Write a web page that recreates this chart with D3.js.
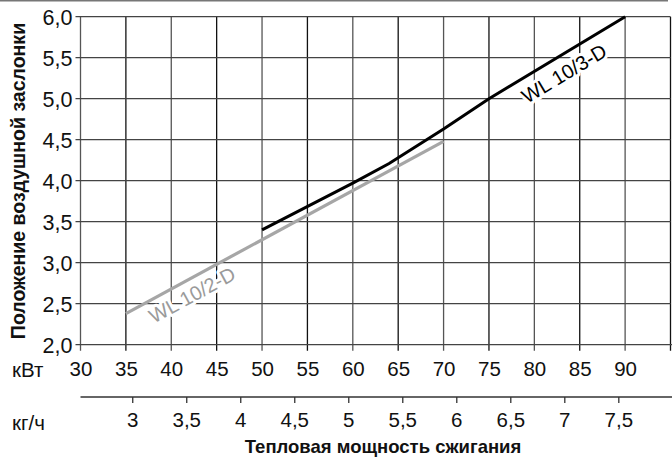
<!DOCTYPE html>
<html>
<head>
<meta charset="utf-8">
<script src="https://cdn.jsdelivr.net/npm/d3@7"></script>
<style>
  body { margin: 0; background: #fff; }
  text { font-family: "Liberation Sans", Arial, sans-serif; }
</style>
</head>
<body>
<div id="chart"></div>
<script>
// data
var kwTicks = [30, 35, 40, 45, 50, 55, 60, 65, 70, 75, 80, 85, 90];
var kgTicks = [3, 3.5, 4, 4.5, 5, 5.5, 6, 6.5, 7, 7.5];
var yTicks = [2, 2.5, 3, 3.5, 4, 4.5, 5, 5.5, 6];
var kwPerKg = 11.9;

var wl103 = [
  {kw: 50, pos: 3.40},
  {kw: 60, pos: 3.97},
  {kw: 64, pos: 4.21},
  {kw: 70, pos: 4.63},
  {kw: 75, pos: 5.00},
  {kw: 90, pos: 6.00}
];
var wl102 = [
  {kw: 35, pos: 2.38},
  {kw: 70, pos: 4.48}
];

var width = 672, height = 459;

var svg = d3.select("#chart").append("svg")
    .attr("width", width)
    .attr("height", height);

var x = d3.scaleLinear().domain([30, 95]).range([80.5, 670.5]);
var y = d3.scaleLinear().domain([2, 6]).range([344.7, 16.7]);

var comma = function(f) { return function(d) { return f(d).replace(".", ","); }; };

// thin rule across the top
svg.append("line")
    .attr("x1", 0).attr("x2", 668)
    .attr("y1", 0.8).attr("y2", 0.8)
    .attr("stroke", "#777").attr("stroke-width", 1.6);

// grid
var grid = svg.append("g");
grid.selectAll("line.v")
    .data(kwTicks.concat([95]))
  .enter().append("line")
    .attr("class", "v")
    .attr("x1", function(d) { return x(d); })
    .attr("x2", function(d) { return x(d); })
    .attr("y1", y(6))
    .attr("y2", y(2) + 6)
    .attr("stroke", function(d, i) { return i % 2 ? "#111" : "#555"; })
    .attr("stroke-width", 1.3);
grid.selectAll("line.h")
    .data(yTicks)
  .enter().append("line")
    .attr("class", "h")
    .attr("x1", x(30) - 5)
    .attr("x2", function(d) { return d === 2 ? width : x(95); })
    .attr("y1", function(d) { return y(d); })
    .attr("y2", function(d) { return y(d); })
    .attr("stroke", "#444")
    .attr("stroke-width", 1.3);

// y labels
var yAxis = svg.append("g")
    .attr("transform", "translate(" + x(30) + ",0)")
    .call(d3.axisLeft(y).tickValues(yTicks).tickFormat(comma(d3.format(".1f"))).tickSize(0).tickPadding(8));
yAxis.select(".domain").remove();
yAxis.selectAll("text")
    .attr("font-size", 21.5)
    .attr("font-family", "Liberation Sans, Arial, sans-serif")
    .attr("fill", "#111")
    .attr("dy", "0.36em");

// kW labels
var xAxis = svg.append("g")
    .attr("transform", "translate(0," + y(2) + ")")
    .call(d3.axisBottom(x).tickValues(kwTicks).tickSize(0).tickPadding(17));
xAxis.select(".domain").remove();
xAxis.selectAll("text")
    .attr("font-size", 20.5)
    .attr("font-family", "Liberation Sans, Arial, sans-serif")
    .attr("fill", "#111");

svg.append("text")
    .attr("x", 12).attr("y", 377)
    .attr("font-size", 20.5).attr("fill", "#111")
    .text("кВт");

// kg/h axis
var kgY = 397;
svg.append("line")
    .attr("x1", x(30)).attr("x2", width)
    .attr("y1", kgY).attr("y2", kgY)
    .attr("stroke", "#666").attr("stroke-width", 2);
var kgAxis = svg.append("g")
    .attr("transform", "translate(0," + kgY + ")")
    .call(d3.axisBottom(x).tickValues(kgTicks.map(function(d) { return d * kwPerKg; }))
      .tickFormat(function(d) { return String(Math.round(d / kwPerKg * 10) / 10).replace(".", ","); })
      .tickSize(6).tickPadding(9));
kgAxis.select(".domain").remove();
kgAxis.selectAll("line").attr("stroke", "#333").attr("stroke-width", 1.3);
kgAxis.selectAll("text")
    .attr("font-size", 20.5)
    .attr("font-family", "Liberation Sans, Arial, sans-serif")
    .attr("fill", "#111");

svg.append("text")
    .attr("x", 12).attr("y", 430)
    .attr("font-size", 20.5).attr("fill", "#111")
    .text("кг/ч");

// titles
svg.append("text")
    .attr("x", 383).attr("y", 453)
    .attr("text-anchor", "middle")
    .attr("font-size", 18.5).attr("font-weight", "bold").attr("fill", "#111")
    .text("Тепловая мощность сжигания");

svg.append("text")
    .attr("transform", "translate(25,181) rotate(-90)")
    .attr("text-anchor", "middle")
    .attr("font-size", 19.5).attr("font-weight", "bold").attr("fill", "#111")
    .text("Положение воздушной заслонки");

// curves
var line = d3.line()
    .x(function(d) { return x(d.kw); })
    .y(function(d) { return y(d.pos); });

svg.append("path")
    .datum(wl102)
    .attr("d", line)
    .attr("fill", "none")
    .attr("stroke", "#a6a6a6")
    .attr("stroke-width", 3.2);

svg.append("path")
    .datum(wl103)
    .attr("d", line)
    .attr("fill", "none")
    .attr("stroke", "#000")
    .attr("stroke-width", 3);

// curve labels with white halo
function curveLabel(txt, kw, pos, angle, dist, colour) {
  var a = angle * Math.PI / 180;
  var cx = x(kw) + dist * Math.sin(a);
  var cy = y(pos) + dist * Math.cos(a);
  var g = svg.append("g")
      .attr("transform", "translate(" + cx + "," + cy + ") rotate(" + (-angle) + ")");
  g.append("text")
      .attr("text-anchor", "middle").attr("dy", "0.36em")
      .attr("font-size", 20)
      .attr("stroke", "#fff").attr("stroke-width", 6).attr("stroke-linejoin", "round")
      .attr("fill", "#fff")
      .text(txt);
  g.append("text")
      .attr("text-anchor", "middle").attr("dy", "0.36em")
      .attr("font-size", 20)
      .attr("fill", colour)
      .text(txt);
}

curveLabel("WL 10/2-D", 41.5, 2.38 + (41.5 - 35) * 0.06, 28.5, 15, "#9a9a9a");
curveLabel("WL 10/3-D", 82.3, 5.0 + (82.3 - 75) / 15, 31, 17, "#000");
</script>
</body>
</html>
